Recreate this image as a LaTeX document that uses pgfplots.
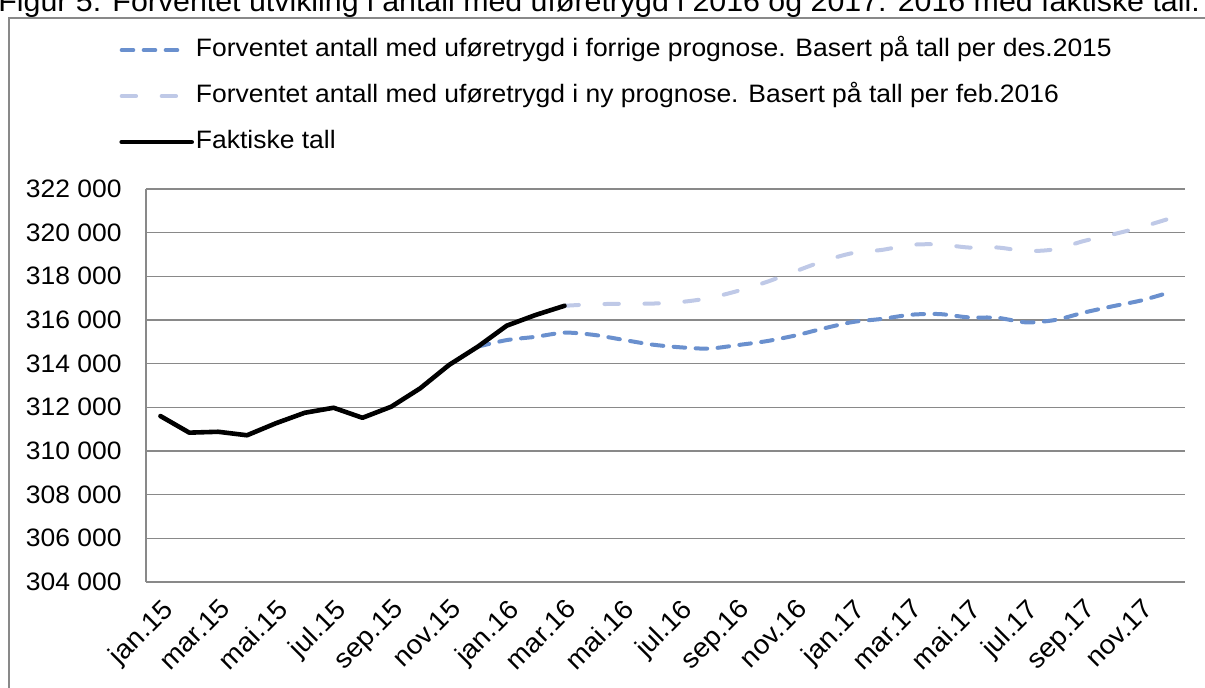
\documentclass[border=0pt]{standalone}
\usepackage{fontspec}
\setmainfont{Liberation Sans}[FakeStretch=1.05]
\usepackage{pgfplots}
\pgfplotsset{compat=1.18}
\pgfplotsset{shortleg/.style={legend image code/.code={\draw[##1] (0pt,0pt) -- (31pt,0pt);}}}
\definecolor{bl}{RGB}{106,144,206}
\definecolor{lb}{RGB}{191,201,231}
\definecolor{gr}{RGB}{137,137,137}
\newcommand{\ff}{\fontsize{12.6}{15}\selectfont}
\begin{document}
\ff
\begin{tikzpicture}[x=1pt,y=1pt]
\useasboundingbox (0,0) rectangle (602.5,344);
\clip (0,0) rectangle (602.5,344);
\draw[gr, line width=1pt] (4.5,-20) rectangle (620,335);
\node[anchor=base west, inner sep=0pt, font=\fontsize{14.45}{17}\selectfont] at (-1, 338) {Figur 5. Forventet utvikling i antall med uføretrygd i 2016 og 2017. 2016 med faktiske tall.};
\begin{axis}[
  at={(73pt,53pt)}, anchor=south west,
  scale only axis, width=519.5pt, height=196.5pt,
  xmin=-0.5, xmax=35.5, ymin=304000, ymax=322000,
  axis x line*=bottom, axis y line*=left,
  axis line style={gr, line width=0.75pt, -},
  ymajorgrids, grid style={gr, line width=0.75pt},
  major tick length=0pt,
  scaled y ticks=false,
  ytick={304000,306000,308000,310000,312000,314000,316000,318000,320000,322000},
  yticklabels={304 000,306 000,308 000,310 000,312 000,314 000,316 000,318 000,320 000,322 000},
  xtick={0,2,...,34},
  xticklabels={jan.15,mar.15,mai.15,jul.15,sep.15,nov.15,jan.16,mar.16,mai.16,jul.16,sep.16,nov.16,jan.17,mar.17,mai.17,jul.17,sep.17,nov.17},
  yticklabel style={anchor=east, inner sep=0pt, font=\ff},
  yticklabel shift=12pt,
  xticklabel style={rotate=45, anchor=north east, inner sep=0pt, font=\fontsize{13.4}{15}\selectfont},
  xticklabel shift=7.5pt,
  legend cell align=left,
  legend style={at={(-0.026,1.385)}, anchor=north west, draw=none, fill=none,
    font=\ff, row sep=11pt, column sep=1pt, inner sep=0pt,
    nodes={inner sep=0pt, text height=9pt, text depth=3pt}},
  legend image code/.code={\draw[#1] (0pt,0pt) -- (35pt,0pt);},
]
\addplot[bl, line width=2pt, line cap=round, dash pattern=on 5.8pt off 5.2pt, smooth, shortleg] coordinates {
(11,314780) (12,315080) (13,315230) (14,315420) (15,315320) (16,315100) (17,314880) (18,314750) (19,314690) (20,314850) (21,315030) (22,315290) (23,315620) (24,315910) (25,316050) (26,316240) (27,316270) (28,316120) (29,316100) (30,315890) (31,316000) (32,316340) (33,316630) (34,316900) (35,317280)};
\addlegendentry{Forventet antall med uføretrygd i forrige prognose. Basert på tall per des.2015}
\addplot[lb, line width=2pt, line cap=round, dash pattern=on 7.2pt off 12.8pt, smooth, shortleg] coordinates {
(14,316650) (15,316720) (16,316740) (17,316750) (18,316820) (19,317000) (20,317330) (21,317740) (22,318230) (23,318710) (24,319070) (25,319210) (26,319440) (27,319460) (28,319320) (29,319320) (30,319160) (31,319240) (32,319620) (33,319920) (34,320260) (35,320660)};
\addlegendentry{Forventet antall med uføretrygd i ny prognose. Basert på tall per feb.2016}
\addplot[black, line width=2.3pt, line join=round, line cap=round] coordinates {
(0,311600) (1,310840) (2,310880) (3,310720) (4,311270) (5,311750) (6,311980) (7,311520) (8,312030) (9,312870) (10,313940) (11,314780) (12,315740) (13,316230) (14,316650)};
\addlegendentry{Faktiske tall}
\end{axis}
\end{tikzpicture}
\end{document}
